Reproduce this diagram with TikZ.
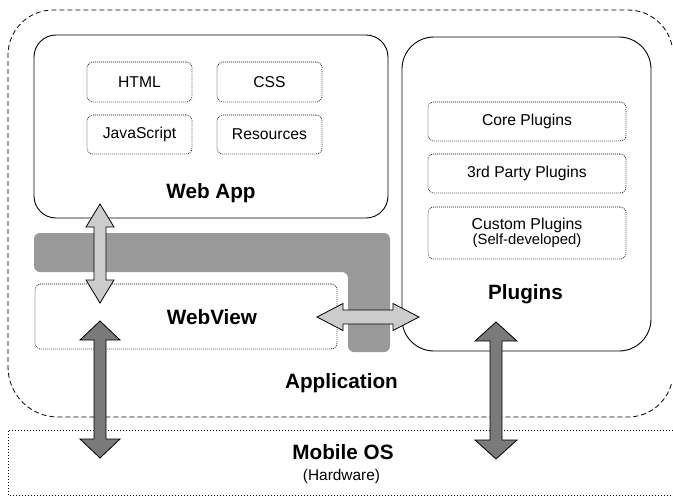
\documentclass[tikz,border=0pt]{standalone}
\usepackage{fontspec}
\setmainfont{Liberation Sans}
\usetikzlibrary{calc}
\definecolor{lightarrow}{HTML}{CCCCCC}
\definecolor{darkarrow}{HTML}{7A7A7A}
\definecolor{lshape}{HTML}{999999}
\tikzset{
  appbox/.style={draw, dash pattern=on 5pt off 3pt, line width=0.8pt},
  osbox/.style={draw, dash pattern=on 0.8pt off 2.2pt, line width=0.8pt},
  mainbox/.style={draw, line width=0.9pt, fill=white},
  itembox/.style={draw, dash pattern=on 0.8pt off 1.2pt, line width=0.7pt, rounded corners=6pt, fill=white},
  itemtext/.style={font=\fontsize{15.7}{18}\selectfont, align=center},
  bigtext/.style={font=\fontsize{20.7}{24}\selectfont\bfseries},
  fatarrow/.style={draw, line width=0.8pt, line join=miter},
}
% vertical double arrow: #1 x, #2 y top, #3 y bottom, #4 shaft half, #5 head half, #6 head length, #7 colour
\newcommand\myvarrow[7]{%
  \filldraw[fatarrow, fill=#7]
    (#1,#2) -- (#1+#5,#2+#6) -- (#1+#4,#2+#6) -- (#1+#4,#3-#6) -- (#1+#5,#3-#6)
    -- (#1,#3) -- (#1-#5,#3-#6) -- (#1-#4,#3-#6) -- (#1-#4,#2+#6) -- (#1-#5,#2+#6) -- cycle;}
\newcommand\myharrow[7]{%
  \filldraw[fatarrow, fill=#7]
    (#2,#1) -- (#2+#6,#1-#5) -- (#2+#6,#1-#4) -- (#3-#6,#1-#4) -- (#3-#6,#1-#5)
    -- (#3,#1) -- (#3-#6,#1+#5) -- (#3-#6,#1+#4) -- (#2+#6,#1+#4) -- (#2+#6,#1+#5) -- cycle;}
\begin{document}
\begin{tikzpicture}[x=1pt,y=-1pt]
\useasboundingbox (0,0) rectangle (673,496);
\fill[white] (0,0) rectangle (673,496);

% Application (runs off the right edge)
\coordinate (apptr) at (628,55);
\coordinate (appbr) at (628,372);
\draw[appbox] ($(apptr)+(-13:45)$) arc[start angle=-13, end angle=-90, radius=45]
  -- (53,10) arc[start angle=-90, end angle=-180, radius=45]
  -- (8,367) arc[start angle=180, end angle=90, radius=50]
  -- (628,417) arc[start angle=90, end angle=13, radius=45];
\node[bigtext] (application) at (341.5,383) {Application};

% Mobile OS (runs off the right edge)
\draw[osbox] (673,430) -- (8,430) -- (8,495) -- (673,495);
\node[bigtext] (mobileos) at (343,452) {Mobile OS};
\node[font=\fontsize{15.4}{17}\selectfont] (hardware) at (341.5,477) {(Hardware)};

% Web App
\draw[mainbox, rounded corners=22pt] (34,35) rectangle (388,218);
\node[itembox, itemtext, minimum width=105pt, minimum height=40pt] (html) at (139.5,82) {HTML};
\node[itembox, itemtext, minimum width=105pt, minimum height=40pt] (css) at (269.5,82) {CSS};
\node[itembox, itemtext, minimum width=105pt, minimum height=39pt] (js) at (139.5,134.5) {JavaScript};
\node[itembox, itemtext, minimum width=105pt, minimum height=39pt] (res) at (269.5,134.5) {Resources};
\node[bigtext] (webapp) at (211,193) {Web App};

% Plugins
\draw[mainbox, rounded corners=32pt] (402,37) rectangle (651,351);
\node[itembox, itemtext, minimum width=198pt, minimum height=39pt] (core) at (527,121.5) {Core Plugins};
\node[itembox, itemtext, minimum width=198pt, minimum height=39pt] (third) at (527,173.5) {3rd Party Plugins};
\node[itembox, minimum width=198pt, minimum height=52pt, align=center] (custom) at (527,233)
  {\fontsize{15.8}{19}\selectfont Custom Plugins\\\fontsize{14.8}{19}\selectfont (Self-developed)};
\node[bigtext] (plugins) at (525.5,294) {Plugins};

% L-shaped bridge
\fill[lshape, rounded corners=6pt] (34,233) -- (390,233) -- (390,352) -- (348,352) -- (348,272) -- (34,272) -- cycle;

% WebView
\node[itembox, minimum width=302pt, minimum height=65pt] (webview) at (186,316.5) {};
\node[bigtext] (webviewlabel) at (212,317) {WebView};

% Arrows
\myvarrow{100}{204}{303}{6}{14}{23}{lightarrow}
\myharrow{317}{317}{419}{7}{13.5}{26}{lightarrow}
\myvarrow{100}{321}{458}{6}{20}{19}{darkarrow}
\myvarrow{496}{322}{459}{6}{21}{19}{darkarrow}
\end{tikzpicture}
\end{document}
